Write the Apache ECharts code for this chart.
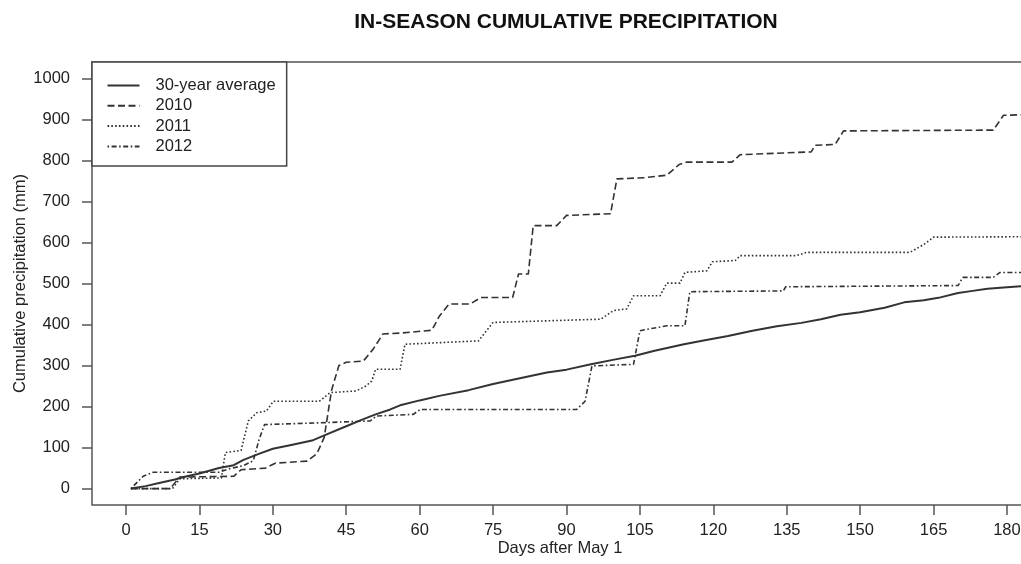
<!DOCTYPE html>
<html>
<head>
<meta charset="utf-8">
<script src="https://cdn.jsdelivr.net/npm/echarts@6/dist/echarts.min.js"></script>
<style>
html,body{margin:0;padding:0;background:#fff;}
#chart{width:1021px;height:564px;}
</style>
</head>
<body>
<div id="chart"></div>
<script>
var titleText = 'IN-SEASON CUMULATIVE PRECIPITATION';
var xName = 'Days after May 1';
var yName = 'Cumulative precipitation (mm)';
var seriesNames = ['30-year average', '2010', '2011', '2012'];
var xTicks = [0, 15, 30, 45, 60, 75, 90, 105, 120, 135, 150, 165, 180];
var yTicks = [0, 100, 200, 300, 400, 500, 600, 700, 800, 900, 1000];

var avg30 = [[1,0],[4,6],[7,14],[10,22],[12,29],[15,37],[19,50],[22,57],[24,70],[27,84],[30,97],[34,107],[38,117],[41,132],[45,152],[48,167],[51,181],[54,193],[56,203],[60,215],[64,226],[70,240],[75,255],[80,268],[86,283],[90,290],[95,303],[100,315],[104,324],[108,336],[114,352],[118,361],[123,372],[128,385],[133,396],[138,404],[142,413],[146,424],[150,430],[155,441],[159,454],[163,459],[166,465],[170,477],[173,482],[176,487],[180,491],[184,494]];

var y2010 = [[1,0],[9,0],[11,28],[22,30],[23.5,46],[28.5,50],[30.5,62],[37,67],[39,85],[40.5,125],[42,240],[43.5,300],[45,308],[48.5,311],[50.5,340],[52.5,377],[56,379],[62.5,386],[64,420],[66,450],[70.3,450],[72.5,466],[79,466],[80.2,523],[82.2,523],[83.2,641],[88,641],[90,666],[99,670],[100.3,755],[106,758],[110.5,764],[113,790],[114.6,796],[123.8,796],[125.5,814],[140,821],[140.8,837],[144.9,839],[146.6,872],[177.2,874],[179.3,910],[184,912]];

var y2011 = [[1,0],[9.5,0],[11,24],[19.5,26],[20.3,88],[23.5,93],[25,165],[26.7,185],[28.7,189],[30.1,213],[39.5,213],[41.7,234],[47,238],[49,250],[50.2,262],[51,291],[56,291],[57,352],[72,360],[75,405],[97,413],[99.6,434],[102.3,438],[103.7,470],[109.1,470],[110.5,501],[113.2,501],[114.2,527],[118.7,531],[119.8,553],[124.5,556],[125.5,568],[137,568],[139.1,576],[160.2,576],[163,595],[165,613],[184,614]];

var y2012 = [[1,0],[3.5,30],[5.6,40],[19,40],[21,48],[24,56],[26,68],[27.2,120],[28.3,156],[41,161],[49.9,165],[51.2,177],[58.7,181],[60.1,193],[92.1,193],[93.8,213],[95.2,299],[103.7,303],[105,385],[110.5,397],[114.2,397],[115.2,480],[134.3,482],[134.8,492],[170,495],[171,515],[177.2,515],[178.6,527],[184,527]];

var seriesData = [avg30, y2010, y2011, y2012];
var dashTypes = ['solid', [7, 3.5], [1.6, 2.2], [1.6, 2.5, 5, 2.5]];
var lineWidths = [2, 1.6, 1.6, 1.6];

var FONT = '"Liberation Sans", Arial, sans-serif';
var chart = echarts.init(document.getElementById('chart'), null, {renderer: 'canvas'});

var series = seriesNames.map(function (name, i) {
  return {
    name: name,
    type: 'line',
    data: seriesData[i],
    symbol: 'none',
    showSymbol: false,
    lineStyle: { color: '#333', width: lineWidths[i], type: dashTypes[i] },
    itemStyle: { color: '#333' },
    z: 2
  };
});

chart.setOption({
  animation: false,
  backgroundColor: '#fff',
  title: {
    text: titleText,
    left: 561,
    top: 7,
    textAlign: 'center',
    textStyle: { fontFamily: FONT, fontSize: 21, fontWeight: 'bold', color: '#111' }
  },
  legend: {
    data: seriesNames,
    orient: 'vertical',
    left: 92,
    top: 62,
    padding: [15, 11, 11, 14.5],
    itemWidth: 32,
    itemHeight: 17,
    itemGap: 3.3,
    borderColor: '#444',
    borderWidth: 1.5,
    borderRadius: 0,
    backgroundColor: '#fff',
    itemStyle: { opacity: 0 },
    textStyle: { fontFamily: FONT, fontSize: 16.5, color: '#222', padding: [0, 0, 0, 11] },
    z: 10
  },
  grid: {
    left: 92,
    right: -7,
    top: 62,
    bottom: 59,
    show: true,
    containLabel: false,
    outerBoundsMode: 'none',
    borderColor: '#555',
    borderWidth: 1.5,
    backgroundColor: 'transparent'
  },
  xAxis: {
    type: 'value',
    min: -6.95,
    max: 184.3,
    axisLine: { show: false, onZero: false },
    splitLine: { show: false },
    axisTick: { show: true, customValues: xTicks, length: 10, lineStyle: { color: '#555', width: 1.5 } },
    axisLabel: { customValues: xTicks, margin: 17, fontFamily: FONT, fontSize: 16.5, color: '#222',
      formatter: function (v) { return String(v); } },
    name: xName,
    nameLocation: 'middle',
    nameGap: 35,
    nameMoveOverlap: false,
    nameTextStyle: { fontFamily: FONT, fontSize: 16.5, color: '#222' }
  },
  yAxis: {
    type: 'value',
    min: -40,
    max: 1040,
    axisLine: { show: false, onZero: false },
    splitLine: { show: false },
    axisTick: { show: true, customValues: yTicks, length: 10, lineStyle: { color: '#555', width: 1.5 } },
    axisLabel: { customValues: yTicks, margin: 22, fontFamily: FONT, fontSize: 16.5, color: '#222',
      formatter: function (v) { return String(v); } },
    name: yName,
    nameLocation: 'middle',
    nameGap: 63,
    nameMoveOverlap: false,
    nameTextStyle: { fontFamily: FONT, fontSize: 16.5, color: '#222' }
  },
  series: series
});
</script>
</body>
</html>
